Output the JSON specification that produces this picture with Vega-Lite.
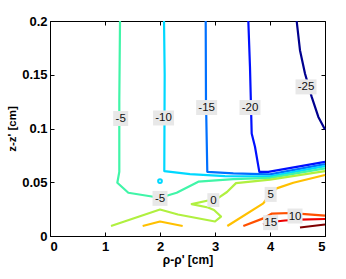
{
  "$schema": "https://vega.github.io/schema/vega-lite/v6.json",
  "width": 275,
  "height": 215,
  "autosize": {"type": "none"},
  "padding": {"left": 50, "top": 21, "right": 21, "bottom": 43},
  "background": "white",
  "config": {
    "view": {"stroke": "black", "strokeWidth": 1}
  },
  "datasets": {
    "lines": [
      {"seg": "m25", "level": "-25", "i": 0, "x": 4.485, "y": 0.2},
      {"seg": "m25", "level": "-25", "i": 1, "x": 4.545, "y": 0.1728},
      {"seg": "m25", "level": "-25", "i": 2, "x": 4.636, "y": 0.1511},
      {"seg": "m25", "level": "-25", "i": 3, "x": 4.758, "y": 0.1294},
      {"seg": "m25", "level": "-25", "i": 4, "x": 4.879, "y": 0.1108},
      {"seg": "m25", "level": "-25", "i": 5, "x": 5.0, "y": 0.0991},
      {"seg": "m20", "level": "-20", "i": 0, "x": 3.606, "y": 0.2},
      {"seg": "m20", "level": "-20", "i": 1, "x": 3.636, "y": 0.1573},
      {"seg": "m20", "level": "-20", "i": 2, "x": 3.667, "y": 0.0954},
      {"seg": "m20", "level": "-20", "i": 3, "x": 3.727, "y": 0.083},
      {"seg": "m20", "level": "-20", "i": 4, "x": 3.806, "y": 0.0597},
      {"seg": "m20", "level": "-20", "i": 5, "x": 3.969, "y": 0.0597},
      {"seg": "m20", "level": "-20", "i": 6, "x": 5.0, "y": 0.069},
      {"seg": "m15", "level": "-15", "i": 0, "x": 2.831, "y": 0.2},
      {"seg": "m15", "level": "-15", "i": 1, "x": 2.836, "y": 0.1263},
      {"seg": "m15", "level": "-15", "i": 2, "x": 2.86, "y": 0.0597},
      {"seg": "m15", "level": "-15", "i": 3, "x": 3.333, "y": 0.0582},
      {"seg": "m15", "level": "-15", "i": 4, "x": 4.0, "y": 0.0573},
      {"seg": "m15", "level": "-15", "i": 5, "x": 5.0, "y": 0.0669},
      {"seg": "m10", "level": "-10", "i": 0, "x": 2.073, "y": 0.2},
      {"seg": "m10", "level": "-10", "i": 1, "x": 2.085, "y": 0.15},
      {"seg": "m10", "level": "-10", "i": 2, "x": 2.078, "y": 0.0604},
      {"seg": "m10", "level": "-10", "i": 3, "x": 2.545, "y": 0.0576},
      {"seg": "m10", "level": "-10", "i": 4, "x": 3.182, "y": 0.0557},
      {"seg": "m10", "level": "-10", "i": 5, "x": 4.0, "y": 0.0555},
      {"seg": "m10", "level": "-10", "i": 6, "x": 5.0, "y": 0.065},
      {"seg": "m5", "level": "-5", "i": 0, "x": 1.273, "y": 0.2},
      {"seg": "m5", "level": "-5", "i": 1, "x": 1.26, "y": 0.1263},
      {"seg": "m5", "level": "-5", "i": 2, "x": 1.26, "y": 0.0597},
      {"seg": "m5", "level": "-5", "i": 3, "x": 1.224, "y": 0.0495},
      {"seg": "m5", "level": "-5", "i": 4, "x": 1.424, "y": 0.0402},
      {"seg": "m5", "level": "-5", "i": 5, "x": 1.879, "y": 0.0365},
      {"seg": "m5", "level": "-5", "i": 6, "x": 2.061, "y": 0.0365},
      {"seg": "m5", "level": "-5", "i": 7, "x": 2.303, "y": 0.0402},
      {"seg": "m5", "level": "-5", "i": 8, "x": 2.697, "y": 0.0505},
      {"seg": "m5", "level": "-5", "i": 9, "x": 3.333, "y": 0.0529},
      {"seg": "m5", "level": "-5", "i": 10, "x": 4.0, "y": 0.054},
      {"seg": "m5", "level": "-5", "i": 11, "x": 5.0, "y": 0.0629},
      {"seg": "z0", "level": "0", "i": 0, "x": 1.109, "y": 0.0093},
      {"seg": "z0", "level": "0", "i": 1, "x": 2.0, "y": 0.0246},
      {"seg": "z0", "level": "0", "i": 2, "x": 2.327, "y": 0.02},
      {"seg": "z0", "level": "0", "i": 3, "x": 3.0, "y": 0.0135},
      {"seg": "z0", "level": "0", "i": 4, "x": 3.109, "y": 0.0181},
      {"seg": "z0", "level": "0", "i": 5, "x": 2.982, "y": 0.0242},
      {"seg": "z0", "level": "0", "i": 6, "x": 2.873, "y": 0.0265},
      {"seg": "z0", "level": "0", "i": 7, "x": 2.576, "y": 0.0297},
      {"seg": "z0", "level": "0", "i": 8, "x": 2.873, "y": 0.033},
      {"seg": "z0", "level": "0", "i": 9, "x": 3.055, "y": 0.0353},
      {"seg": "z0", "level": "0", "i": 10, "x": 3.218, "y": 0.0409},
      {"seg": "z0", "level": "0", "i": 11, "x": 3.382, "y": 0.0492},
      {"seg": "z0", "level": "0", "i": 12, "x": 4.0, "y": 0.0525},
      {"seg": "z0", "level": "0", "i": 13, "x": 5.0, "y": 0.0604},
      {"seg": "p5a", "level": "5", "i": 0, "x": 3.224, "y": 0.0093},
      {"seg": "p5a", "level": "5", "i": 1, "x": 3.878, "y": 0.0303},
      {"seg": "p5a", "level": "5", "i": 2, "x": 4.0, "y": 0.039},
      {"seg": "p5a", "level": "5", "i": 3, "x": 4.121, "y": 0.0443},
      {"seg": "p5a", "level": "5", "i": 4, "x": 4.424, "y": 0.0495},
      {"seg": "p5a", "level": "5", "i": 5, "x": 5.0, "y": 0.0567},
      {"seg": "p5b", "level": "5", "i": 0, "x": 1.685, "y": 0.0093},
      {"seg": "p5b", "level": "5", "i": 1, "x": 2.0, "y": 0.0135},
      {"seg": "p5b", "level": "5", "i": 2, "x": 2.412, "y": 0.0093},
      {"seg": "p10", "level": "10", "i": 0, "x": 3.515, "y": 0.0093},
      {"seg": "p10", "level": "10", "i": 1, "x": 3.878, "y": 0.0164},
      {"seg": "p10", "level": "10", "i": 2, "x": 4.036, "y": 0.0209},
      {"seg": "p10", "level": "10", "i": 3, "x": 4.364, "y": 0.0214},
      {"seg": "p10", "level": "10", "i": 4, "x": 4.636, "y": 0.0204},
      {"seg": "p10", "level": "10", "i": 5, "x": 5.0, "y": 0.019},
      {"seg": "p15", "level": "15", "i": 0, "x": 3.873, "y": 0.0107},
      {"seg": "p15", "level": "15", "i": 1, "x": 4.018, "y": 0.013},
      {"seg": "p15", "level": "15", "i": 2, "x": 4.273, "y": 0.0144},
      {"seg": "p15", "level": "15", "i": 3, "x": 4.545, "y": 0.0153},
      {"seg": "p15", "level": "15", "i": 4, "x": 5.0, "y": 0.0158},
      {"seg": "p20", "level": "20", "i": 0, "x": 4.545, "y": 0.0079},
      {"seg": "p20", "level": "20", "i": 1, "x": 5.0, "y": 0.0107}
    ],
    "ring": [{"level": "-10", "x": 2.0, "y": 0.0511}],
    "labels": [
      {"label": "-5", "x": 1.285, "y": 0.1093},
      {"label": "-10", "x": 2.065, "y": 0.1098},
      {"label": "-15", "x": 2.848, "y": 0.1195},
      {"label": "-20", "x": 3.636, "y": 0.1195},
      {"label": "-25", "x": 4.655, "y": 0.1387},
      {"label": "-5", "x": 2.0, "y": 0.035},
      {"label": "0", "x": 2.97, "y": 0.0334},
      {"label": "5", "x": 4.012, "y": 0.0387},
      {"label": "15", "x": 4.012, "y": 0.0124},
      {"label": "10", "x": 4.455, "y": 0.0186}
    ]
  },
  "resolve": {"axis": {"x": "independent", "y": "independent"}},
  "layer": [
    {
      "data": {"name": "lines"},
      "mark": {"type": "line", "strokeWidth": 2.2, "strokeJoin": "round"},
      "encoding": {
        "x": {"field": "x", "type": "quantitative", "scale": {"domain": [0, 5], "nice": false, "zero": false},
              "axis": {"orient": "bottom", "values": [0, 1, 2, 3, 4, 5], "format": "d", "title": "ρ-ρ' [cm]",
                       "labelFont": "Liberation Sans", "labelFontWeight": "bold", "labelFontSize": 13, "labelColor": "black",
                       "titleFont": "Liberation Sans", "titleFontWeight": "bold", "titleFontSize": 12, "titleColor": "black",
                       "tickColor": "black", "domainColor": "black", "grid": false, "tickSize": -4,
                       "labelPadding": 8, "titlePadding": 1}},
        "y": {"field": "y", "type": "quantitative", "scale": {"domain": [0, 0.2], "nice": false, "zero": false},
              "axis": {"orient": "left", "values": [0, 0.05, 0.1, 0.15, 0.2], "format": "~g", "title": "z-z' [cm]",
                       "labelFont": "Liberation Sans", "labelFontWeight": "bold", "labelFontSize": 13, "labelColor": "black",
                       "titleFont": "Liberation Sans", "titleFontWeight": "bold", "titleFontSize": 11.5, "titleColor": "black",
                       "tickColor": "black", "domainColor": "black", "grid": false, "tickSize": -4,
                       "labelPadding": 7, "titlePadding": 4}},
        "color": {"field": "level", "type": "nominal", "legend": null,
                  "scale": {"domain": ["-25", "-20", "-15", "-10", "-5", "0", "5", "10", "15", "20"],
                            "range": ["#00008f", "#0010ff", "#0070ff", "#00d8ff", "#40f5a8", "#b0f040", "#ffc000", "#ff5000", "#ee0000", "#800000"]}},
        "detail": {"field": "seg"},
        "order": {"field": "i", "type": "quantitative"}
      }
    },
    {
      "data": {"name": "ring"},
      "mark": {"type": "point", "filled": false, "shape": "circle", "size": 14, "strokeWidth": 2, "color": "#00d8ff", "opacity": 1},
      "encoding": {
        "x": {"field": "x", "type": "quantitative", "axis": null},
        "y": {"field": "y", "type": "quantitative", "axis": null}
      }
    },
    {
      "data": {"name": "labels"},
      "mark": {"type": "point", "filled": true, "size": 441, "color": "#e8e8e8", "opacity": 1, "strokeWidth": 0},
      "encoding": {
        "x": {"field": "x", "type": "quantitative", "axis": null},
        "y": {"field": "y", "type": "quantitative", "axis": null},
        "shape": {"field": "label", "type": "nominal", "legend": null,
                  "scale": {"domain": ["-5", "-10", "-15", "-20", "-25", "0", "5", "10", "15"],
                            "range": ["M-0.714,-0.714H0.714V0.714H-0.714Z", "M-1,-0.714H1V0.714H-1Z", "M-1,-0.714H1V0.714H-1Z", "M-1,-0.714H1V0.714H-1Z", "M-1,-0.714H1V0.714H-1Z", "M-0.571,-0.66H0.571V0.66H-0.571Z", "M-0.571,-0.714H0.571V0.714H-0.571Z", "M-0.714,-0.714H0.714V0.714H-0.714Z", "M-0.714,-0.714H0.714V0.714H-0.714Z"]}}
      }
    },
    {
      "data": {"name": "labels"},
      "mark": {"type": "text", "font": "Liberation Sans", "fontSize": 11.5, "color": "#111", "align": "center", "baseline": "middle", "dy": 0.5},
      "encoding": {
        "x": {"field": "x", "type": "quantitative", "axis": {"orient": "top", "values": [0, 1, 2, 3, 4, 5], "labels": false, "title": null, "domain": false, "tickColor": "black", "tickSize": -4, "grid": false}},
        "y": {"field": "y", "type": "quantitative", "axis": {"orient": "right", "values": [0, 0.05, 0.1, 0.15, 0.2], "labels": false, "title": null, "domain": false, "tickColor": "black", "tickSize": -4, "grid": false}},
        "text": {"field": "label"}
      }
    }
  ]
}
